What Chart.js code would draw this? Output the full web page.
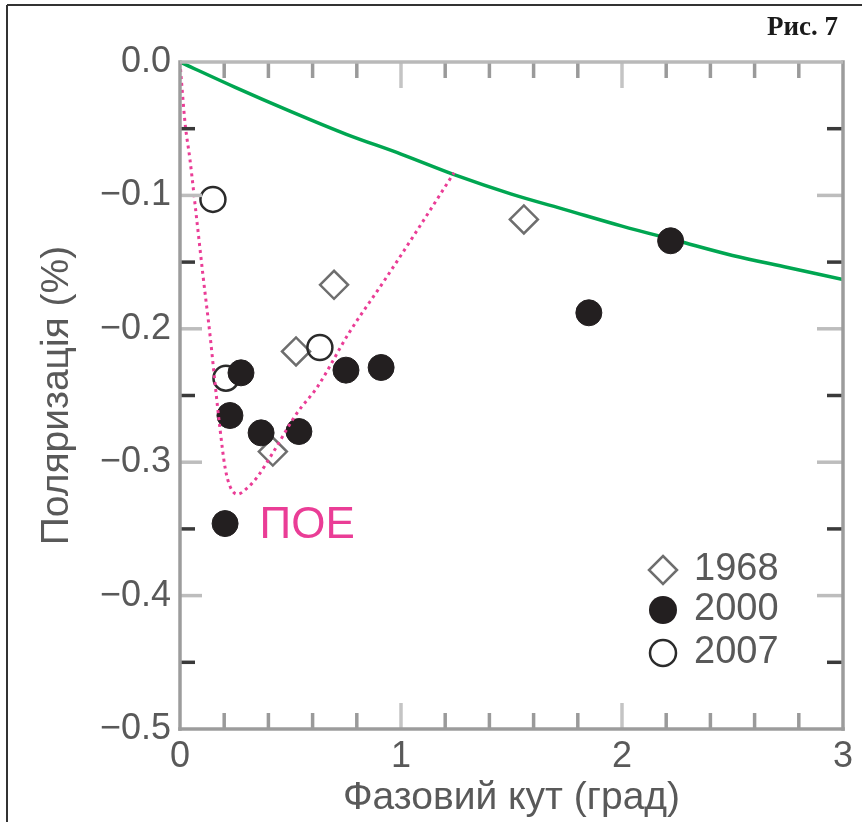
<!DOCTYPE html>
<html>
<head>
<meta charset="utf-8">
<title>Рис. 7</title>
<script src="https://cdn.jsdelivr.net/npm/chart.js@4.4.1/dist/chart.umd.min.js"></script>
<style>
  html, body { margin: 0; padding: 0; background: #fff; }
  #wrap { position: relative; width: 865px; height: 822px; }
</style>
</head>
<body>
<div id="wrap"><canvas id="polChart" width="865" height="822"></canvas></div>
<script>
// Series names (legend)
const seriesNames = ['1968', '2000', '2007'];

// 1968 - open diamonds
const x1968 = [0.42, 0.525, 0.697, 1.556];
const y1968 = [-0.292, -0.217, -0.167, -0.118];

// 2000 - filled circles
const x2000 = [0.204, 0.226, 0.276, 0.367, 0.538, 0.751, 0.91, 1.85, 2.22];
const y2000 = [-0.346, -0.265, -0.233, -0.278, -0.277, -0.231, -0.229, -0.188, -0.134];

// 2007 - open circles
const x2007 = [0.149, 0.208, 0.633];
const y2007 = [-0.103, -0.237, -0.214];

// Green curve
const greenX = [0, 0.25, 0.5, 0.75, 1.0, 1.25, 1.5, 1.75, 2.0, 2.25, 2.5, 2.75, 3.0];
const greenY = [0, -0.019, -0.037, -0.054, -0.069, -0.085, -0.099, -0.111, -0.123, -0.134, -0.145, -0.154, -0.163];

// Pink dotted curve (ПОЕ)
const pinkX = [0, 0.007, 0.023, 0.045, 0.077, 0.104, 0.136, 0.158, 0.181, 0.204, 0.226, 0.26, 0.30, 0.35, 0.42, 0.53, 0.62, 0.765, 0.92, 1.07, 1.24];
const pinkY = [0, -0.015, -0.046, -0.073, -0.12, -0.16, -0.205, -0.24, -0.275, -0.304, -0.318, -0.324, -0.32, -0.311, -0.293, -0.263, -0.244, -0.203, -0.165, -0.127, -0.083];

// Tick labels
const xTickLabels = ['0', '1', '2', '3'];
const yTickLabels = ['0.0', '\u22120.1', '\u22120.2', '\u22120.3', '\u22120.4', '\u22120.5'];

const FONT = "'Liberation Sans', Arial, Helvetica, sans-serif";
const TEXT_GRAY = '#595959';
const PINK = '#ea3d96';

function toPoints(xs, ys) {
    return xs.map((x, i) => ({ x: x, y: ys[i] }));
}

function drawMarker(c, kind, x, y, r) {
    c.save();
    c.beginPath();
    if (kind === 'diamond') {
        c.moveTo(x, y - r);
        c.lineTo(x + r, y);
        c.lineTo(x, y + r);
        c.lineTo(x - r, y);
        c.closePath();
        c.lineWidth = 2.5;
        c.strokeStyle = '#6e6e6e';
        c.stroke();
    } else if (kind === 'filled') {
        c.arc(x, y, r, 0, Math.PI * 2);
        c.fillStyle = '#231f20';
        c.fill();
    } else {
        c.arc(x, y, r - 1, 0, Math.PI * 2);
        c.lineWidth = 2.5;
        c.strokeStyle = '#2b2b2b';
        c.stroke();
    }
    c.restore();
}

// Frame, inner ticks, legend and labels
const framePlugin = {
    id: 'frame',
    beforeDraw(chart) {
        const c = chart.ctx;
        c.save();
        c.fillStyle = '#fff';
        c.fillRect(0, 0, chart.width, chart.height);
        c.restore();
    },
    afterDatasetsDraw(chart) {
        const c = chart.ctx;
        const { left, right, top, bottom } = chart.chartArea;
        const xs = chart.scales.x, ys = chart.scales.y;

        function seg(x1, y1, x2, y2) {
            c.beginPath();
            c.moveTo(x1, y1);
            c.lineTo(x2, y2);
            c.stroke();
        }

        c.save();
        c.lineWidth = 3.5;
        c.lineCap = 'butt';

        // x ticks (top and bottom, pointing inward)
        xs.ticks.forEach(t => {
            if (t.value <= 1e-6 || t.value >= 3 - 1e-6) return;
            const px = xs.getPixelForValue(t.value);
            const major = Math.abs(t.value - Math.round(t.value)) < 1e-6;
            const len = major ? 26 : 16;
            c.strokeStyle = major ? '#c4c4c4' : '#9a9a9a';
            seg(px, top, px, top + len);
            seg(px, bottom, px, bottom - len);
        });

        // y ticks (left and right, pointing inward)
        ys.ticks.forEach(t => {
            if (t.value >= -1e-6 || t.value <= -0.5 + 1e-6) return;
            const py = ys.getPixelForValue(t.value);
            const major = Math.abs(t.value * 10 - Math.round(t.value * 10)) < 1e-6;
            c.strokeStyle = major ? '#bdbdbd' : '#3a3a3a';
            seg(left, py, left + (major ? 22 : 15), py);
            seg(right, py, right - (major ? 26 : 16), py);
        });

        // plot frame
        c.strokeStyle = '#9c9c9c';
        seg(left, top - 1.75, left, bottom + 1.75);
        seg(right, top - 1.75, right, bottom + 1.75);
        seg(left - 1.75, bottom, right + 1.75, bottom);
        c.strokeStyle = '#b9b9b9';
        seg(left, top, right, top);

        // ПОЕ label anchored to the data scale
        c.fillStyle = PINK;
        c.font = '44px ' + FONT;
        c.textAlign = 'left';
        c.textBaseline = 'alphabetic';
        c.fillText('ПОЕ', xs.getPixelForValue(0.36), ys.getPixelForValue(-0.357));

        // legend inside the plot, bottom right
        const kinds = ['diamond', 'filled', 'open'];
        const rowOffsets = [159, 119, 76];
        c.font = '38px ' + FONT;
        c.textBaseline = 'middle';
        seriesNames.forEach((name, i) => {
            const my = bottom - rowOffsets[i];
            const mx = right - 180;
            drawMarker(c, kinds[i], mx, my, 14);
            c.fillStyle = TEXT_GRAY;
            c.fillText(name, mx + 31, my);
        });

        // figure caption
        c.fillStyle = '#1a1a1a';
        c.font = "bold 27px 'Liberation Serif', 'Times New Roman', serif";
        c.textAlign = 'right';
        c.textBaseline = 'alphabetic';
        c.fillText('Рис. 7', 838, 35);

        // outer figure border (top and left)
        c.strokeStyle = '#333';
        c.lineWidth = 2;
        seg(7, 5, 862, 5);
        seg(7, 5, 7, chart.height);
        c.restore();
    }
};

function markerDataset(label, xs, ys, kind, order) {
    const base = {
        label: label,
        data: toPoints(xs, ys),
        order: order,
        pointRadius: 13,
        pointHoverRadius: 13,
        showLine: false
    };
    if (kind === 'diamond') {
        return Object.assign(base, {
            pointStyle: 'rectRot', pointRadius: 14, pointHoverRadius: 14,
            pointBackgroundColor: 'rgba(0,0,0,0)', pointBorderColor: '#6e6e6e', pointBorderWidth: 2.5
        });
    }
    if (kind === 'filled') {
        return Object.assign(base, {
            pointStyle: 'circle', pointBackgroundColor: '#231f20', pointBorderColor: '#231f20', pointBorderWidth: 1
        });
    }
    return Object.assign(base, {
        pointStyle: 'circle', pointRadius: 12.5, pointHoverRadius: 12.5,
        pointBackgroundColor: 'rgba(0,0,0,0)', pointBorderColor: '#2b2b2b', pointBorderWidth: 2.5
    });
}

const ctx = document.getElementById('polChart');
new Chart(ctx, {
    type: 'scatter',
    data: {
        datasets: [
            {
                label: 'green',
                data: toPoints(greenX, greenY),
                showLine: true,
                borderColor: '#00a651',
                borderWidth: 3.5,
                pointRadius: 0,
                cubicInterpolationMode: 'monotone',
                order: 4
            },
            markerDataset(seriesNames[0], x1968, y1968, 'diamond', 3),
            markerDataset(seriesNames[2], x2007, y2007, 'open', 2),
            markerDataset(seriesNames[1], x2000, y2000, 'filled', 1),
            {
                label: 'ПОЕ',
                data: toPoints(pinkX, pinkY),
                showLine: true,
                borderColor: PINK,
                borderWidth: 3,
                borderDash: [3, 4],
                pointRadius: 0,
                cubicInterpolationMode: 'monotone',
                order: 0
            }
        ]
    },
    options: {
        responsive: false,
        animation: false,
        devicePixelRatio: 1,
        layout: { padding: { top: 62, right: 22, left: 0, bottom: 0 } },
        plugins: {
            legend: { display: false },
            tooltip: { enabled: false }
        },
        scales: {
            x: {
                type: 'linear',
                min: 0,
                max: 3,
                afterFit: s => { s.height = 93; },
                grid: { display: false, drawTicks: false },
                border: { display: false },
                ticks: {
                    stepSize: 0.2,
                    autoSkip: false,
                    maxRotation: 0,
                    padding: 6,
                    color: TEXT_GRAY,
                    font: { family: FONT, size: 36 },
                    callback: v => {
                        const r = Math.round(v);
                        return Math.abs(v - r) < 1e-6 ? xTickLabels[r] : '';
                    }
                },
                title: {
                    display: true,
                    text: 'Фазовий кут (град)',
                    color: TEXT_GRAY,
                    font: { family: FONT, size: 39 },
                    padding: { top: 0, bottom: 0 }
                }
            },
            y: {
                type: 'linear',
                min: -0.5,
                max: 0,
                afterFit: s => { s.width = 180; },
                grid: { display: false, drawTicks: false },
                border: { display: false },
                ticks: {
                    stepSize: 0.05,
                    autoSkip: false,
                    padding: 9,
                    color: TEXT_GRAY,
                    font: { family: FONT, size: 36 },
                    callback: v => {
                        const k = Math.round(-v * 10);
                        return Math.abs(-v * 10 - k) < 1e-6 ? yTickLabels[k] : '';
                    }
                },
                title: {
                    display: true,
                    text: 'Поляризація (%)',
                    color: TEXT_GRAY,
                    font: { family: FONT, size: 39 },
                    padding: { top: 34, bottom: 0 }
                }
            }
        }
    },
    plugins: [framePlugin]
});
</script>
</body>
</html>
